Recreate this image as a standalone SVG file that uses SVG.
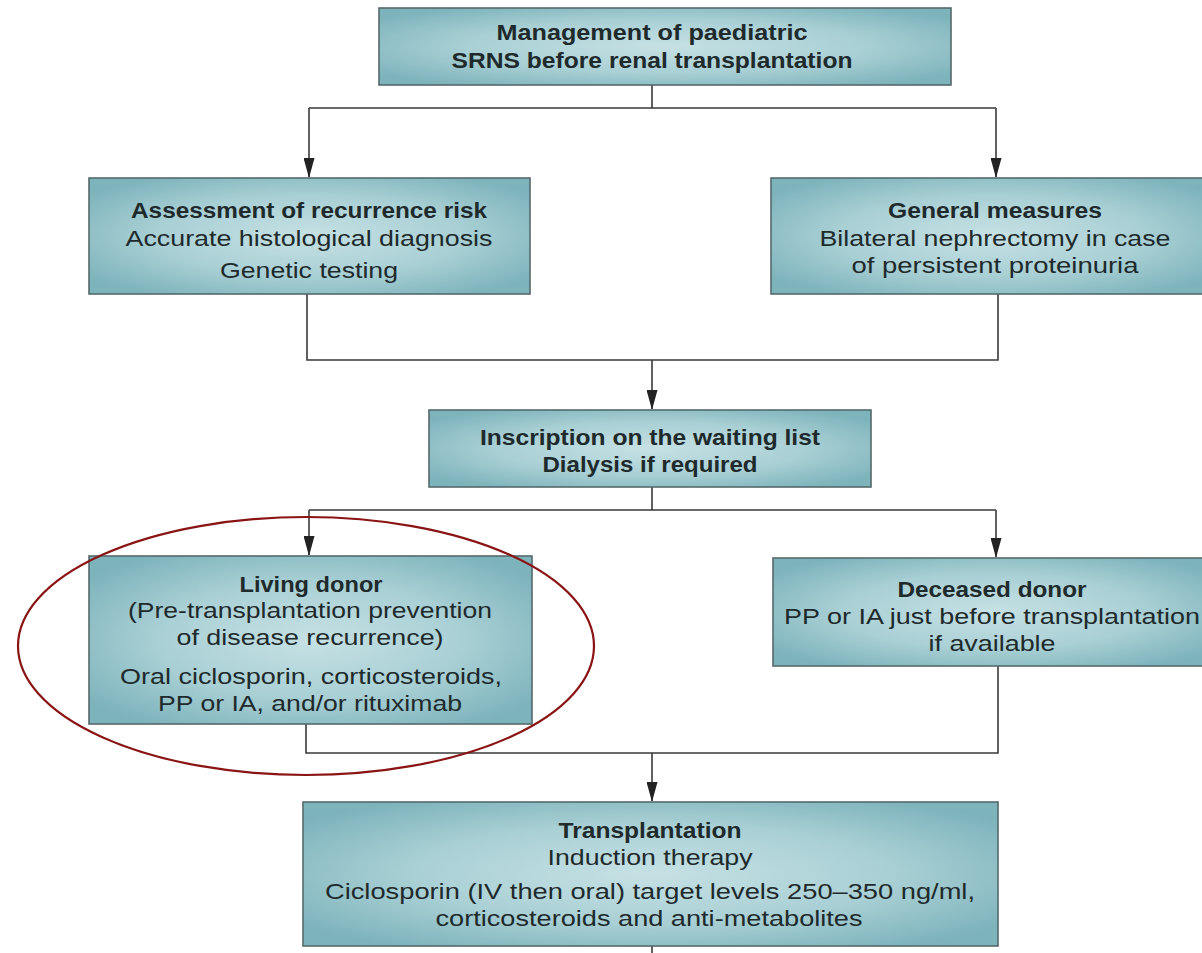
<svg xmlns="http://www.w3.org/2000/svg" width="1202" height="953" viewBox="0 0 1202 953">
  <defs>
    <radialGradient id="boxFill" cx="0.5" cy="0.5" r="0.62">
      <stop offset="0" stop-color="#c6e1e4"/>
      <stop offset="0.55" stop-color="#a9d0d5"/>
      <stop offset="1" stop-color="#7db3bb"/>
    </radialGradient>
    <marker id="tri" markerWidth="20" markerHeight="11" refX="19" refY="5.5" orient="auto" markerUnits="userSpaceOnUse" viewBox="0 0 20 11">
      <path d="M0,0 L20,5.5 L0,11 Z" fill="#222222"/>
    </marker>
  </defs>
  <style>
    .box { fill: url(#boxFill); stroke: #56696c; stroke-width: 1.6; }
    .wire { fill: none; stroke: #3a3a3a; stroke-width: 1.6; }
    .arr { fill: none; stroke: #3a3a3a; stroke-width: 1.6; marker-end: url(#tri); }
    text { font-family: "Liberation Sans", Arial, sans-serif; font-size: 22px; fill: #1e2a2c; text-anchor: middle; }
    .b { font-weight: bold; }
    .ring { fill: none; stroke: #8a1414; stroke-width: 2.2; }
  </style>

  <rect width="1202" height="953" fill="#ffffff"/>

  <!-- connectors -->
  <g id="connectors">
    <path class="wire" d="M652,85 V108 M309,108 H996"/>
    <path class="arr" d="M309,108 V177"/>
    <path class="arr" d="M996,108 V177"/>
    <path class="wire" d="M307,294 V360 H998 V294"/>
    <path class="arr" d="M652,360 V409"/>
    <path class="wire" d="M652,487 V510 M309,510 H996"/>
    <path class="arr" d="M309,510 V555"/>
    <path class="arr" d="M996,510 V557"/>
    <path class="wire" d="M306,724 V753 H998 V666"/>
    <path class="arr" d="M652,753 V801"/>
    <path class="wire" d="M652,946 V953"/>
  </g>

  <g id="node-management">
    <rect class="box" x="379" y="8" width="572" height="77"/>
    <text class="b" x="652" y="40" textLength="311" lengthAdjust="spacingAndGlyphs">Management of paediatric</text>
    <text class="b" x="652" y="68" textLength="401" lengthAdjust="spacingAndGlyphs">SRNS before renal transplantation</text>
  </g>

  <g id="node-assessment">
    <rect class="box" x="89" y="178" width="441" height="116"/>
    <text class="b" x="309" y="218" textLength="356" lengthAdjust="spacingAndGlyphs">Assessment of recurrence risk</text>
    <text x="309" y="246" textLength="367" lengthAdjust="spacingAndGlyphs">Accurate histological diagnosis</text>
    <text x="309" y="278" textLength="178" lengthAdjust="spacingAndGlyphs">Genetic testing</text>
  </g>

  <g id="node-general">
    <rect class="box" x="771" y="178" width="440" height="116"/>
    <text class="b" x="995" y="218" textLength="214" lengthAdjust="spacingAndGlyphs">General measures</text>
    <text x="995" y="246" textLength="351" lengthAdjust="spacingAndGlyphs">Bilateral nephrectomy in case</text>
    <text x="995" y="273" textLength="287" lengthAdjust="spacingAndGlyphs">of persistent proteinuria</text>
  </g>

  <g id="node-waiting-list">
    <rect class="box" x="429" y="410" width="442" height="77"/>
    <text class="b" x="650" y="445" textLength="340" lengthAdjust="spacingAndGlyphs">Inscription on the waiting list</text>
    <text class="b" x="650" y="472" textLength="215" lengthAdjust="spacingAndGlyphs">Dialysis if required</text>
  </g>

  <g id="node-living-donor">
    <rect class="box" x="89" y="556" width="443" height="168"/>
    <text class="b" x="311" y="592" textLength="143" lengthAdjust="spacingAndGlyphs">Living donor</text>
    <text x="310" y="618" textLength="364" lengthAdjust="spacingAndGlyphs">(Pre-transplantation prevention</text>
    <text x="310" y="645" textLength="267" lengthAdjust="spacingAndGlyphs">of disease recurrence)</text>
    <text x="311" y="684" textLength="382" lengthAdjust="spacingAndGlyphs">Oral ciclosporin, corticosteroids,</text>
    <text x="310" y="711" textLength="304" lengthAdjust="spacingAndGlyphs">PP or IA, and/or rituximab</text>
  </g>

  <g id="node-deceased-donor">
    <rect class="box" x="773" y="558" width="440" height="108"/>
    <text class="b" x="992" y="597" textLength="189" lengthAdjust="spacingAndGlyphs">Deceased donor</text>
    <text x="992" y="624" textLength="416" lengthAdjust="spacingAndGlyphs">PP or IA just before transplantation</text>
    <text x="992" y="651" textLength="127" lengthAdjust="spacingAndGlyphs">if available</text>
  </g>

  <g id="node-transplantation">
    <rect class="box" x="303" y="802" width="695" height="144"/>
    <text class="b" x="650" y="838" textLength="183" lengthAdjust="spacingAndGlyphs">Transplantation</text>
    <text x="650" y="865" textLength="205" lengthAdjust="spacingAndGlyphs">Induction therapy</text>
    <text x="650" y="899" textLength="650" lengthAdjust="spacingAndGlyphs">Ciclosporin (IV then oral) target levels 250–350 ng/ml,</text>
    <text x="649" y="926" textLength="427" lengthAdjust="spacingAndGlyphs">corticosteroids and anti-metabolites</text>
  </g>

  <!-- highlight ring around the living donor branch -->
  <g id="highlight">
    <ellipse class="ring" cx="306" cy="646" rx="288" ry="129"/>
  </g>
</svg>
